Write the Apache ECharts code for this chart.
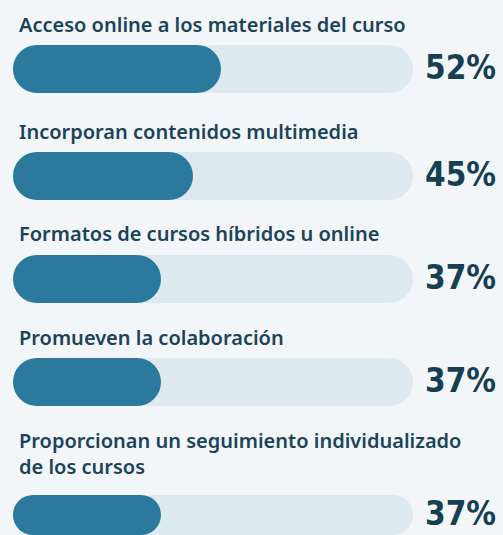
<!DOCTYPE html>
<html lang="es">
<head>
    <meta charset="UTF-8">
    <title>Encuesta</title>
    <script src="https://cdn.jsdelivr.net/npm/echarts@6/dist/echarts.min.js"></script>
    <style>
        html, body { margin: 0; padding: 0; background: #f2f6f9; }
    </style>
</head>
<body>
<div id="box" style="width: 503px;height:535px;"></div>
<script>
    // datos
    var categories = [
        'Acceso online a los materiales del curso',
        'Incorporan contenidos multimedia',
        'Formatos de cursos híbridos u online',
        'Promueven la colaboración',
        'Proporcionan un seguimiento individualizado\nde los cursos'
    ];
    var values = [52, 45, 37, 37, 37];
    var trackMax = 100;

    // layout of each row (top of the bar, top of the title)
    var barTops = [45, 152, 255, 358, 495];
    var titleTops = [11, 118, 220, 324, 427];
    var barH = 48;

    var myChart = echarts.init(document.getElementById('box'), null, {renderer: 'svg'});

    var grids = [], xAxes = [], yAxes = [], series = [], titles = [];
    for (var i = 0; i < values.length; i++) {
        grids.push({left: 13, width: 400, top: barTops[i], height: barH});
        xAxes.push({type: 'value', gridIndex: i, min: 0, max: trackMax, show: false});
        yAxes.push({type: 'category', gridIndex: i, data: [categories[i]], show: false});
        titles.push({
            text: categories[i],
            left: 19,
            top: titleTops[i],
            padding: 0,
            textStyle: {
                fontFamily: "'Noto Sans', sans-serif",
                fontWeight: 600,
                fontSize: 20,
                lineHeight: 26,
                color: '#1c4358'
            }
        });
        // track (with the value label on the right)
        series.push({
            type: 'bar',
            xAxisIndex: i,
            yAxisIndex: i,
            barWidth: barH,
            barGap: '-100%',
            silent: true,
            itemStyle: {color: '#ddeaf0', borderRadius: barH / 2},
            label: {
                show: true,
                position: 'right',
                distance: 12,
                offset: [0, -2],
                formatter: (function (v) {
                    return function () { return v + '%'; };
                })(values[i]),
                fontFamily: "'Liberation Sans Narrow', 'DejaVu Sans Condensed', sans-serif",
                fontWeight: 'bold',
                fontSize: 33,
                color: '#163f52'
            },
            data: [trackMax]
        });
        // valor
        series.push({
            type: 'bar',
            xAxisIndex: i,
            yAxisIndex: i,
            barWidth: barH,
            barGap: '-100%',
            itemStyle: {color: '#2b7a9e', borderRadius: barH / 2},
            data: [values[i]]
        });
    }

    var option = {
        backgroundColor: '#f2f6f9',
        animation: false,
        title: titles,
        grid: grids,
        xAxis: xAxes,
        yAxis: yAxes,
        series: series
    };
    myChart.setOption(option);
</script>
</body>
</html>
